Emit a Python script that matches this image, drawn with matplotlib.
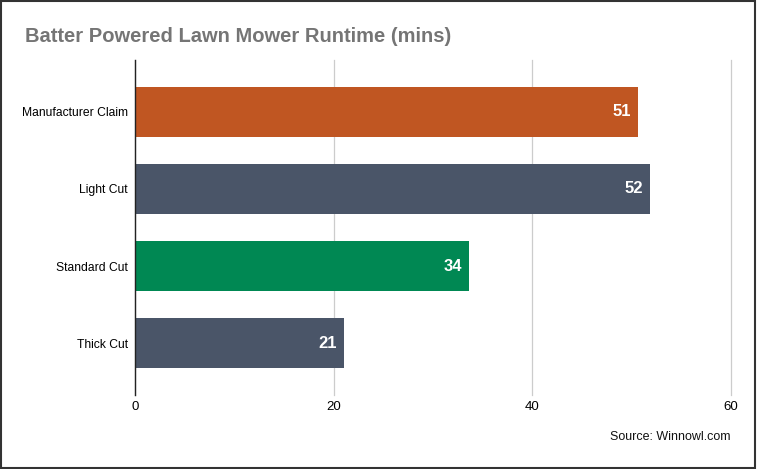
import matplotlib.pyplot as plt
from matplotlib.patches import Rectangle

# Data
categories = ['Manufacturer Claim', 'Light Cut', 'Standard Cut', 'Thick Cut']
runtimes = [50.6, 51.8, 33.6, 21.0]
bar_colors = ['#C05622', '#4A5568', '#008853', '#4A5568']
x_ticks = [0, 20, 40, 60]

plt.rcParams['font.family'] = ['Liberation Sans', 'DejaVu Sans']

fig = plt.figure(figsize=(7.57, 4.69), dpi=100)
ax = fig.add_axes([135 / 757, 1 - 395 / 469, 596 / 757, 335 / 469])

y = list(range(len(categories)))
bars = ax.barh(y, runtimes, height=0.64, color=bar_colors, zorder=3)

# Value labels inside the bar ends
for b, v in zip(bars, runtimes):
    ax.text(b.get_width() - 0.7, b.get_y() + b.get_height() / 2, f'{round(v)}',
            ha='right', va='center', color='white', fontsize=12,
            fontweight='bold', zorder=4)

ax.set_xlim(0, 60)
ax.set_ylim(3.675, -0.675)
ax.set_xticks(x_ticks)
ax.set_yticks(y)
ax.set_yticklabels(categories, fontsize=8.7)
ax.tick_params(axis='x', labelsize=9.5, length=0, pad=4)
ax.tick_params(axis='y', length=0, pad=5)
ax.grid(axis='x', color='#CCCCCC', linewidth=0.9, zorder=0)
for gl in ax.get_xgridlines():
    gl.set_clip_on(False)

for s in ['top', 'right', 'bottom']:
    ax.spines[s].set_visible(False)
ax.spines['left'].set_color('#222222')
ax.spines['left'].set_linewidth(1.0)
ax.spines['left'].set_zorder(5)

fig.text(25 / 757, 1 - 37 / 469, 'Batter Powered Lawn Mower Runtime (mins)',
         fontsize=14.5, fontweight='bold', color='#757575', va='center', ha='left')
fig.text(731 / 757, 1 - 437 / 469, 'Source: Winnowl.com',
         fontsize=9, color='#111111', va='center', ha='right')

# Border round the whole figure
fig.patches.append(Rectangle((0.001, 0.002), 0.997, 0.996, transform=fig.transFigure,
                             fill=False, edgecolor='#333333', linewidth=1.5))

fig.savefig('out.png', dpi=100)
